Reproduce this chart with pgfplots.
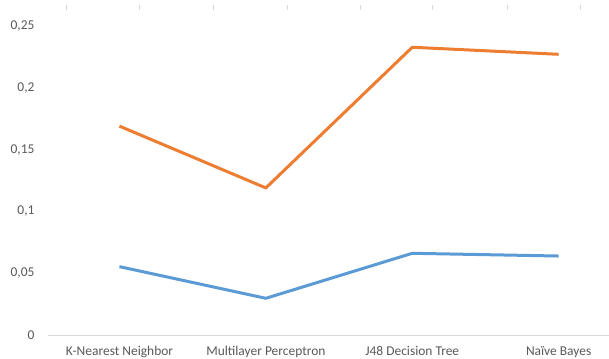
\documentclass[border=0pt]{standalone}
\usepackage{pgfplots}
\pgfplotsset{compat=1.18}
\usepackage{fontspec}
\setmainfont{Carlito}
\definecolor{xlblue}{HTML}{5B9BD5}
\definecolor{xlorange}{HTML}{ED7D31}
\definecolor{xltext}{HTML}{595959}
\definecolor{xlaxis}{HTML}{D9D9D9}
\begin{document}
\begin{tikzpicture}[x=1bp,y=1bp]
\useasboundingbox (0,0) rectangle (609,358);
% small tick marks along the top edge
\begin{axis}[
  at={(48bp,23bp)}, anchor=south west,
  scale only axis, width=561bp, height=330bp,
  xmin=-0.488, xmax=3.344, ymin=0, ymax=1,
  axis x line*=top, axis y line=none,
  axis line style={draw=none},
  xtick={-0.365,0.133,0.639,1.144,1.643,2.14,2.65,3.15},
  xticklabels={}, tick align=inside,
  major tick length=5bp,
  tick style={xlaxis, line width=0.8bp},
]
\end{axis}
\begin{axis}[
  at={(48bp,23bp)}, anchor=south west,
  scale only axis, width=561bp, height=309bp,
  xmin=-0.488, xmax=3.344, ymin=0, ymax=0.25,
  axis x line*=bottom, axis y line*=left,
  x axis line style={xlaxis, line width=1bp, -},
  y axis line style={draw=none},
  xtick={0,1,2,3},
  xticklabels={K-Nearest Neighbor, Multilayer Perceptron, J48 Decision Tree, Naïve Bayes},
  ytick={0,0.05,0.1,0.15,0.2,0.25},
  yticklabels={0,{0,05},{0,1},{0,15},{0,2},{0,25}},
  major tick length=0pt,
  tick label style={font=\fontsize{13.5}{15}\selectfont, text=xltext},
  xticklabel style={yshift=-8bp},
  yticklabel style={anchor=east, xshift=-10bp},
  clip=false,
]
\addplot[xlblue, line width=3bp, line join=round] coordinates {
  (0,0.0553) (1,0.0297) (2,0.0661) (3,0.0639)};
\addplot[xlorange, line width=3bp, line join=round] coordinates {
  (0,0.169) (1,0.119) (2,0.2328) (3,0.2271)};
\end{axis}
\end{tikzpicture}
\end{document}
